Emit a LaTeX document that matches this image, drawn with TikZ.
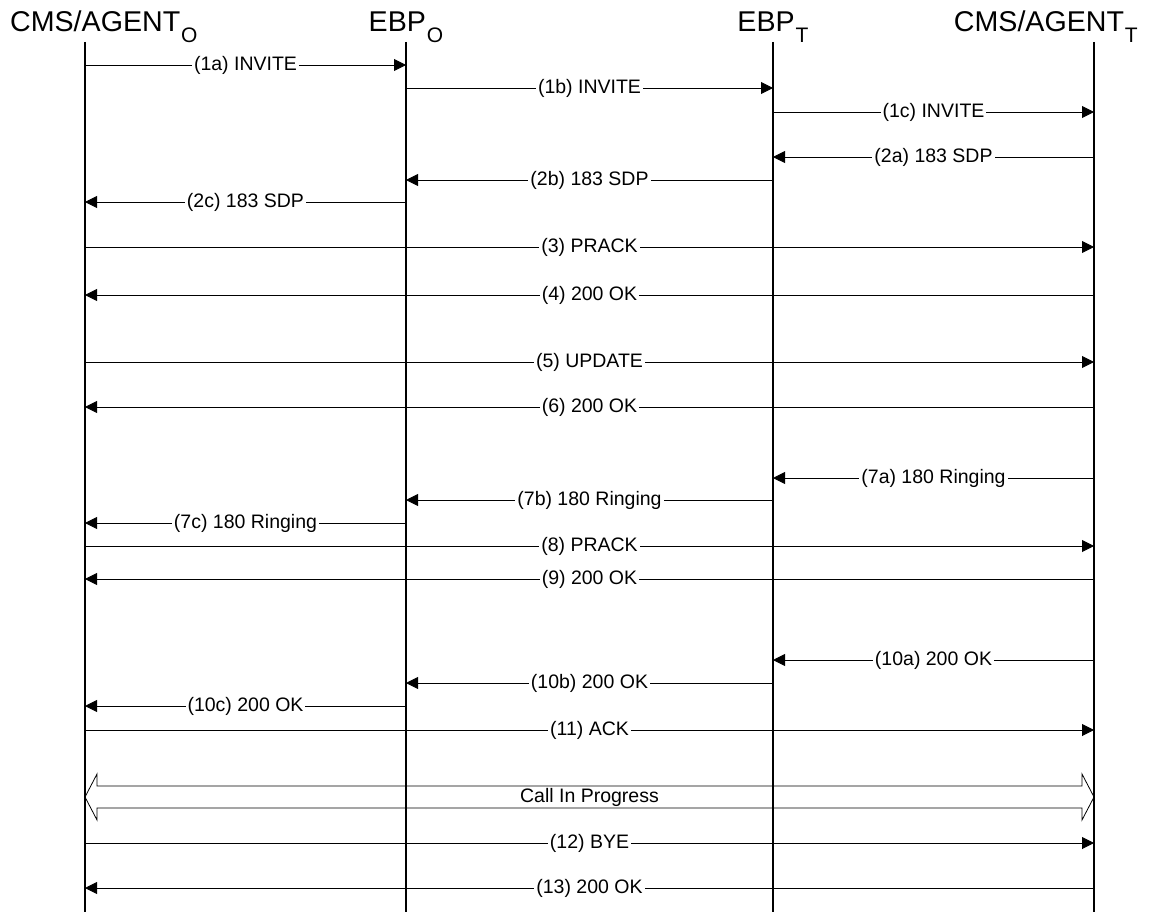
\documentclass[tikz,border=0pt]{standalone}
\usepackage{fontspec}
\setmainfont{Liberation Sans}
\usetikzlibrary{arrows.meta}
\usetikzlibrary{positioning}
\usetikzlibrary{calc}
\tikzset{
    x=1pt, y=-1pt,
    head/.style={
        inner sep=0pt,
        font=\fontsize{28.6}{32}\selectfont
    },
    life/.style={
        line width=1.4pt
    },
    lbl/.style={
        font=\fontsize{19.5}{22}\selectfont
    },
    msg/.style={
        draw,
        line width=0.9pt,
        -{Triangle[length=12pt,width=12pt]},
        every node/.append style={
            lbl,
            fill=white,
            inner sep=2pt
        }
    }
}
\newcommand{\lowsub}[1]{\hspace{1pt}\raisebox{-11pt}{\fontsize{21}{21}\selectfont #1}}

\begin{document}
\begin{tikzpicture}
    \useasboundingbox (0,0) rectangle (1150,912);

    % lifeline heads
    \node[head, anchor=base west] (cmsO) at (10,32) {CMS/AGENT\lowsub{O}};
    \node[head, anchor=base] (ebpO) at (406,32) {EBP\lowsub{O}};
    \node[head, anchor=base] (ebpT) at (773,32) {EBP\lowsub{T}};
    \node[head, anchor=base east] (cmsT) at (1138,32) {CMS/AGENT\lowsub{T}};

    \coordinate (aO) at (85,42);
    \coordinate (bO) at (406,42);
    \coordinate (bT) at (773,42);
    \coordinate (aT) at (1094,42);

    \draw[life] (aO) -- (aO |- 0,912);
    \draw[life] (bO) -- (bO |- 0,912);
    \draw[life] (bT) -- (bT |- 0,912);
    \draw[life] (aT) -- (aT |- 0,912);

    % messages
    \draw[msg] (aO |- 0,65) -- node {(1a) INVITE} (bO |- 0,65);
    \draw[msg] (bO |- 0,88) -- node {(1b) INVITE} (bT |- 0,88);
    \draw[msg] (bT |- 0,112) -- node {(1c) INVITE} (aT |- 0,112);
    \draw[msg] (aT |- 0,157) -- node {(2a) 183 SDP} (bT |- 0,157);
    \draw[msg] (bT |- 0,180) -- node {(2b) 183 SDP} (bO |- 0,180);
    \draw[msg] (bO |- 0,202) -- node {(2c) 183 SDP} (aO |- 0,202);
    \draw[msg] (aO |- 0,247) -- node {(3) PRACK} (aT |- 0,247);
    \draw[msg] (aT |- 0,295) -- node {(4) 200 OK} (aO |- 0,295);
    \draw[msg] (aO |- 0,362) -- node {(5) UPDATE} (aT |- 0,362);
    \draw[msg] (aT |- 0,407) -- node {(6) 200 OK} (aO |- 0,407);
    \draw[msg] (aT |- 0,478) -- node {(7a) 180 Ringing} (bT |- 0,478);
    \draw[msg] (bT |- 0,500) -- node {(7b) 180 Ringing} (bO |- 0,500);
    \draw[msg] (bO |- 0,523) -- node {(7c) 180 Ringing} (aO |- 0,523);
    \draw[msg] (aO |- 0,546) -- node {(8) PRACK} (aT |- 0,546);
    \draw[msg] (aT |- 0,579) -- node {(9) 200 OK} (aO |- 0,579);
    \draw[msg] (aT |- 0,660) -- node {(10a) 200 OK} (bT |- 0,660);
    \draw[msg] (bT |- 0,683) -- node {(10b) 200 OK} (bO |- 0,683);
    \draw[msg] (bO |- 0,706) -- node {(10c) 200 OK} (aO |- 0,706);
    \draw[msg] (aO |- 0,730) -- node {(11) ACK} (aT |- 0,730);

    % call in progress
    \draw[line width=0.8pt]
        (aO |- 0,797) -- ++(12,-23) -- ++(0,12) -- ($(aT |- 0,786)+(-12,0)$)
        -- ++(0,-12) -- (aT |- 0,797) -- ++(-12,23) -- ++(0,-12)
        -- ($(aO |- 0,808)+(12,0)$) -- ++(0,12) -- cycle;
    \node[lbl, inner sep=0pt] (call) at ($(aO |- 0,797)!0.5!(aT |- 0,797)$) {Call In Progress};

    \draw[msg] (aO |- 0,843) -- node {(12) BYE} (aT |- 0,843);
    \draw[msg] (aT |- 0,888) -- node {(13) 200 OK} (aO |- 0,888);
\end{tikzpicture}
\end{document}
